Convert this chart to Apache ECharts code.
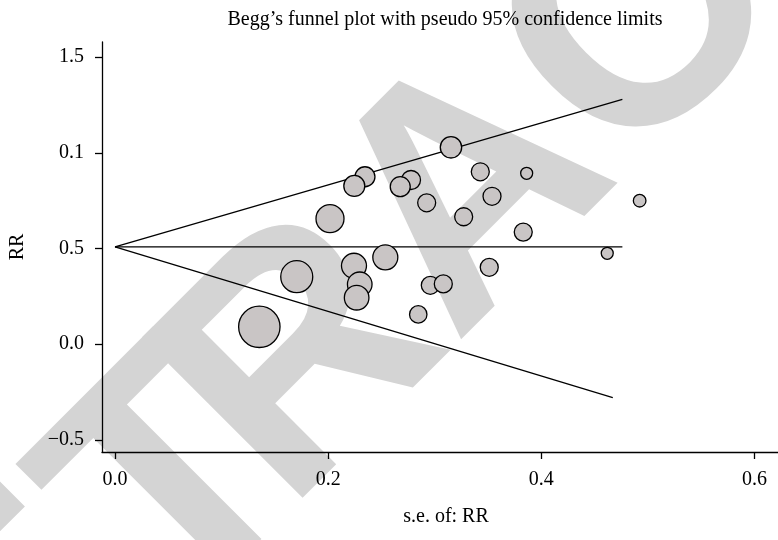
<!DOCTYPE html>
<html>
<head>
<meta charset="utf-8">
<script src="https://cdn.jsdelivr.net/npm/echarts@6/dist/echarts.min.js"></script>
<style>html,body{margin:0;padding:0;background:#fff;}#chart{width:778px;height:540px;}</style>
</head>
<body>
<div id="chart"></div>
<script>
// Study data: standard error (x), effect (y), marker weight
const seValues = [0.2345,0.2245,0.2017,0.2777,0.2676,0.2924,0.3152,0.3427,0.3862,0.3537,0.3271,0.3830,0.4618,0.3511,0.2958,0.3080,0.1705,0.1354,0.2242,0.2536,0.2296,0.2267,0.2845,0.4922];
const rrValues = [0.875,0.827,0.656,0.858,0.823,0.739,1.029,0.901,0.893,0.773,0.666,0.586,0.475,0.402,0.308,0.315,0.353,0.091,0.410,0.454,0.313,0.243,0.156,0.750];
const weights  = [10,10.5,14,9.5,10,9,10.7,9,6,9,9,9,6,9,9,9,16,20.7,12.5,12.5,12.3,12.3,8.7,6.3];

// Pseudo 95% confidence limits and pooled estimate
const pooledLineX = [0, 0.476];
const pooledLineY = [0.509, 0.509];
const upperLimitX = [0, 0.476];
const upperLimitY = [0.509, 1.279];
const lowerLimitX = [0, 0.467];
const lowerLimitY = [0.509, -0.279];

// Tick labels
const xTickValues = [0, 0.2, 0.4, 0.6];
const xTickLabels = ['0.0', '0.2', '0.4', '0.6'];
const yTickValues = [-0.5, 0, 0.5, 1.0, 1.5];
const yTickLabels = ['\u22120.5', '0.0', '0.5', '0.1', '1.5'];

// Watermark word (decoration)
const watermarkLetters = ['R', 'E', 'T', 'R', 'A', 'C', 'T', 'E', 'D'];

const FONT = '"Liberation Serif", "DejaVu Serif", serif';
const zip = (xs, ys) => xs.map((x, i) => [x, ys[i]]);
const scatterData = seValues.map((x, i) => [x, rrValues[i], weights[i]]);

// watermark layout along a 45-degree baseline
const wmOffsets = [-660, -431, -220, -41, 197, 435, 655, 866, 1095];
const wmMid = 475;
const watermark = watermarkLetters.map((ch, i) => {
  const s = wmOffsets[i];
  return {
    type: 'text', x: (s + wmMid) / Math.SQRT2, y: (wmMid - s) / Math.SQRT2,
    rotation: Math.PI / 4, z: -10, silent: true,
    style: { text: ch, font: 'bold 330px "Liberation Sans", Arial, sans-serif', fill: '#d4d4d4', align: 'center', verticalAlign: 'middle' }
  };
});

const chart = echarts.init(document.getElementById('chart'));
const lineStyle = { color: '#000', width: 1.3 };
chart.setOption({
  animation: false,
  backgroundColor: '#fff',
  title: {
    text: 'Begg\u2019s funnel plot with pseudo 95% confidence limits',
    left: 440, top: 5, textAlign: 'center',
    textStyle: { fontFamily: FONT, fontSize: 20, fontWeight: 'normal', color: '#000' }
  },
  graphic: watermark,
  grid: { left: 102, top: 42, right: 0, bottom: 88, containLabel: false, outerBoundsMode: 'none' },
  xAxis: {
    type: 'value', min: -0.0122, max: 0.622,
    name: 's.e. of: RR', nameLocation: 'middle', nameGap: 55,
    nameTextStyle: { fontFamily: FONT, fontSize: 20, color: '#000', padding: [0, 0, 0, 12] },
    axisLine: { show: true, onZero: false, lineStyle: { color: '#000', width: 1.3 } },
    axisTick: { show: true, length: 7, lineStyle: { color: '#000', width: 1.3 }, customValues: xTickValues },
    axisLabel: { fontFamily: FONT, fontSize: 20, color: '#000', margin: 18, customValues: xTickValues,
      formatter: v => { const i = xTickValues.findIndex(t => Math.abs(t - v) < 1e-9); return i >= 0 ? xTickLabels[i] : ''; } },
    splitLine: { show: false }
  },
  yAxis: {
    type: 'value', min: -0.563, max: 1.579,
    name: 'RR', nameLocation: 'middle', nameGap: 74, nameRotate: 90,
    nameTextStyle: { fontFamily: FONT, fontSize: 20, color: '#000' },
    axisLine: { show: true, onZero: false, lineStyle: { color: '#000', width: 1.3 } },
    axisTick: { show: true, length: 7, lineStyle: { color: '#000', width: 1.3 }, customValues: yTickValues },
    axisLabel: { fontFamily: FONT, fontSize: 20, color: '#000', margin: 18, customValues: yTickValues,
      formatter: v => { const i = yTickValues.findIndex(t => Math.abs(t - v) < 1e-9); return i >= 0 ? yTickLabels[i] : ''; } },
    splitLine: { show: false }
  },
  series: [
    { type: 'line', data: zip(upperLimitX, upperLimitY), symbol: 'none', lineStyle: lineStyle, z: 1 },
    { type: 'line', data: zip(pooledLineX, pooledLineY), symbol: 'none', lineStyle: lineStyle, z: 1 },
    { type: 'line', data: zip(lowerLimitX, lowerLimitY), symbol: 'none', lineStyle: lineStyle, z: 1 },
    { type: 'scatter', data: scatterData, symbol: 'circle',
      symbolSize: d => d[2] * 2,
      itemStyle: { color: '#c9c5c5', borderColor: '#000', borderWidth: 1.3, opacity: 1 }, z: 3 }
  ]
});
</script>
</body>
</html>
